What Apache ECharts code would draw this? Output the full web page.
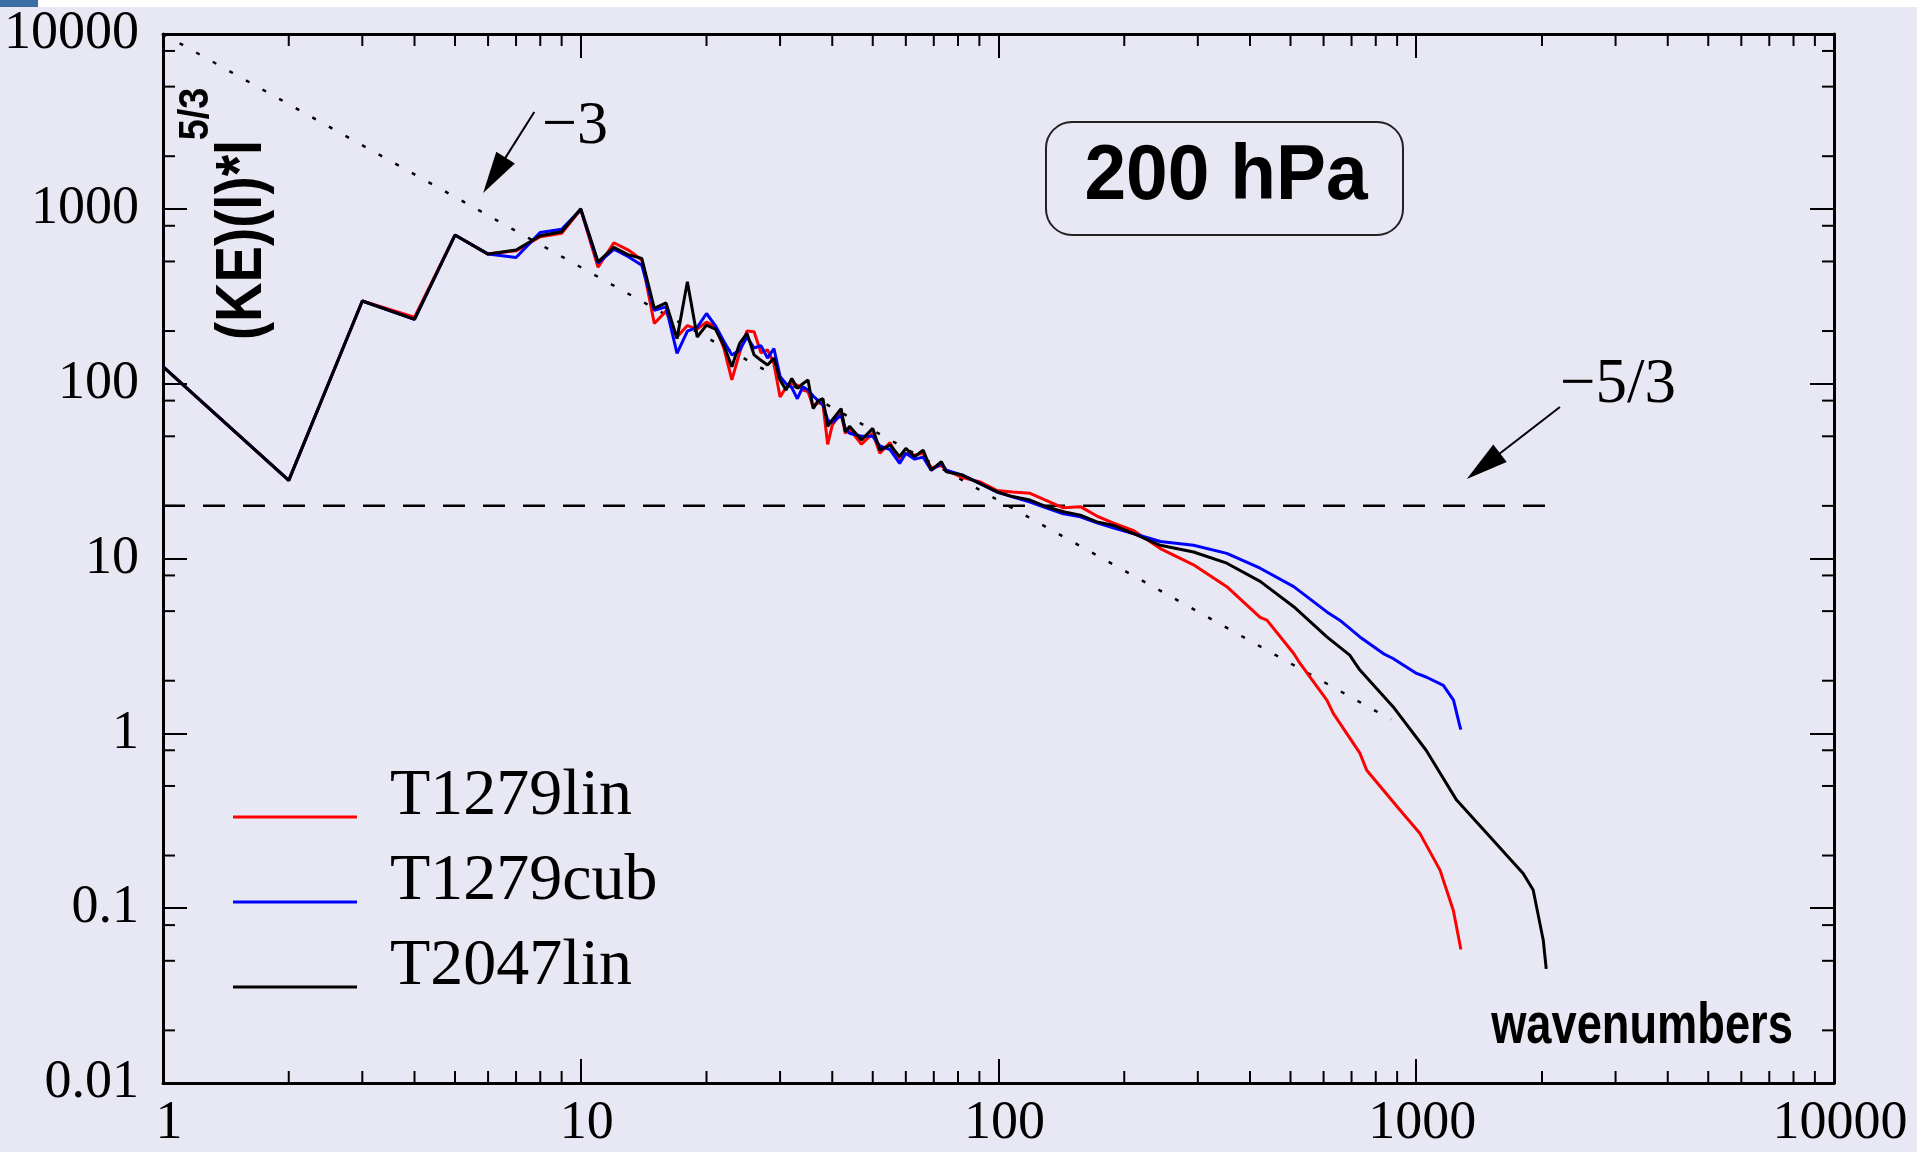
<!DOCTYPE html>
<html>
<head>
<meta charset="utf-8">
<title>KE spectrum 200 hPa</title>
<script src="https://cdn.jsdelivr.net/npm/echarts@6.0.0/dist/echarts.min.js"></script>
<style>
  html, body { margin: 0; padding: 0; background: #e8e8f4; }
  #main { width: 1917px; height: 1152px; }
</style>
</head>
<body>
<div id="main"></div>
<script>
// valeurs (spectre d'énergie cinétique * l^(5/3), 200 hPa)
const lowWn = [1, 2, 3, 4, 5, 6, 7, 8, 9, 10, 11, 12, 13, 14, 15, 16, 17, 18, 19, 20,
  21, 22, 23, 24, 25, 26, 27, 28, 29, 30, 31, 32, 33, 34, 35, 36, 37, 38, 39, 40];

const t1279linLow = [125, 28, 297, 240, 708, 551, 575, 692, 725, 990, 463, 640, 581, 510, 221, 260, 185, 215, 205, 225,
  212, 160, 105, 150, 200, 198, 150, 156, 130, 84, 95, 100, 98, 92, 90, 74, 78, 76, 45, 58];
const t1279cubLow = [125, 28, 297, 233, 708, 551, 527, 733, 764, 990, 490, 587, 532, 476, 263, 275, 149, 200, 210, 252,
  215, 175, 146, 155, 185, 160, 165, 140, 159, 110, 100, 95, 82, 96, 92, 85, 80, 76, 62, 60];
const t2047linLow = [125, 28, 297, 233, 708, 551, 581, 701, 739, 1000, 498, 602, 545, 521, 270, 290, 181, 383, 185, 216,
  205, 166, 125, 170, 194, 146, 136, 128, 140, 105, 92, 107, 94, 100, 105, 72, 80, 82, 57, 62];

const t1279linHighWn = [42, 43, 44, 47, 50, 52, 55, 58, 60, 63, 66, 69, 73, 75, 82, 90, 99, 108, 119, 130,
  143, 157, 172, 188, 210, 244, 293, 352, 423, 439, 509, 527, 611, 633, 733, 761, 914, 1021, 1140, 1227, 1279];
const t1279linHigh = [68, 52, 55, 45, 52, 40, 46, 36, 40, 39, 40, 33, 34, 32, 29, 27.5, 24.5, 24, 23.6, 21.5,
  19.5, 19.8, 17.5, 16, 14.5, 11.4, 9.2, 6.9, 4.6, 4.44, 2.86, 2.51, 1.55, 1.3, 0.77, 0.615, 0.364, 0.267, 0.165, 0.097, 0.058];

const t1279cubHighWn = [42, 43, 44, 47, 50, 52, 55, 58, 60, 63, 66, 69, 73, 75, 82, 90, 99, 108, 119, 130,
  143, 157, 172, 188, 210, 244, 293, 352, 423, 509, 611, 656, 733, 834, 880, 1002, 1056, 1161, 1228, 1273, 1279];
const t1279cubHigh = [66, 55, 52, 50, 50, 44, 42, 35, 40, 37, 38, 32, 35, 32, 30, 27, 24, 22.5, 21, 19.5,
  18, 17.3, 16, 15, 13.9, 12.5, 11.9, 10.7, 8.8, 6.9, 4.95, 4.44, 3.56, 2.86, 2.68, 2.2, 2.1, 1.88, 1.55, 1.09, 1.05];

const t2047linHighWn = [42, 43, 44, 47, 50, 52, 55, 58, 60, 63, 66, 69, 73, 75, 82, 90, 99, 108, 119, 130,
  143, 157, 172, 188, 210, 244, 293, 352, 423, 509, 611, 693, 733, 880, 1056, 1249, 1501, 1803, 1905, 2014, 2047];
const t2047linHigh = [72, 53, 57, 47.6, 55.5, 41.7, 44.6, 38.2, 42.7, 38.2, 41.7, 32, 35.8, 31.3, 30, 26.9, 24.1, 22.6, 21.6, 19.8,
  18.5, 17.7, 16.2, 15.5, 13.9, 11.9, 10.9, 9.4, 7.4, 5.3, 3.56, 2.8, 2.3, 1.42, 0.8, 0.415, 0.256, 0.158, 0.127, 0.0656, 0.045];

// droites de référence : pente -3 (pointillés) et -5/3 (tirets)
const slopeMinus3 = [[1, 10000], [870, 1.2]];
const slopeMinus53 = [[1, 20], [2047, 20]];

// flèches d'annotation [départ, pointe] en coordonnées des données
const arrowMinus3 = [[7.74, 3581], [5.84, 1231]];
const arrowMinus53 = [[2208, 73.5], [1321, 28.5]];

const seriesNames = ['T1279lin', 'T1279cub', 'T2047lin'];
const seriesColors = ['#ff0000', '#0000ff', '#000000'];

const xTickLabels = ['1', '10', '100', '1000', '10000'];
const yTickLabels = ['0.01', '0.1', '1', '10', '100', '1000', '10000'];
const xMinorMantissa = [2, 3, 4, 5, 6, 7, 8, 9];
const yMinorMantissa = [2, 5, 8];

function pairs(xs, ys) {
  return xs.map((x, i) => [x, ys[i]]);
}

const xMinorTicks = [];
[1, 10, 100, 1000].forEach(d => xMinorMantissa.forEach(m => xMinorTicks.push([m * d, 1])));
const yMinorTicks = [];
[0.01, 0.1, 1, 10, 100, 1000].forEach(d => yMinorMantissa.forEach(m => yMinorTicks.push([1, m * d])));

const chartDom = document.getElementById('main');
const chart = echarts.init(chartDom, null, { renderer: 'canvas' });

const axisCommon = {
  type: 'log',
  logBase: 10,
  axisLine: { show: true, onZero: false, lineStyle: { color: '#000', width: 3 } },
  axisTick: { show: true, inside: true, length: 24, lineStyle: { color: '#000', width: 2 } },
  splitLine: { show: false },
  minorTick: { show: false }
};

const serifLabel = { fontFamily: 'Liberation Serif', fontSize: 54, color: '#000' };

function minorTickSeries(name, data, isX) {
  return {
    name: name,
    type: 'custom',
    silent: true,
    z: 5,
    data: data,
    renderItem: function (params, api) {
      const cs = params.coordSys;
      const p = api.coord([api.value(0), api.value(1)]);
      const st = { stroke: '#000', lineWidth: 2 };
      const len = 12;
      if (isX) {
        return {
          type: 'group',
          children: [
            { type: 'line', shape: { x1: p[0], y1: cs.y + cs.height, x2: p[0], y2: cs.y + cs.height - len }, style: st },
            { type: 'line', shape: { x1: p[0], y1: cs.y, x2: p[0], y2: cs.y + len }, style: st }
          ]
        };
      }
      return {
        type: 'group',
        children: [
          { type: 'line', shape: { x1: cs.x, y1: p[1], x2: cs.x + len, y2: p[1] }, style: st },
          { type: 'line', shape: { x1: cs.x + cs.width, y1: p[1], x2: cs.x + cs.width - len, y2: p[1] }, style: st }
        ]
      };
    }
  };
}

function spectrumSeries(i, lowVals, highWn, highVals) {
  return {
    name: seriesNames[i],
    type: 'line',
    color: seriesColors[i],
    showSymbol: false,
    symbol: 'none',
    smooth: false,
    clip: true,
    z: 10 + i,
    lineStyle: { color: seriesColors[i], width: 3 },
    data: pairs(lowWn, lowVals).concat(pairs(highWn, highVals))
  };
}

const option = {
  backgroundColor: '#e8e8f4',
  animation: false,
  grid: { left: 163, right: 83, top: 34, bottom: 69, containLabel: false },
  xAxis: [
    Object.assign({}, axisCommon, {
      position: 'bottom', min: 1, max: 10000,
      axisLabel: Object.assign({}, serifLabel, {
        margin: 14,
        padding: [0, 0, 0, 12],
        formatter: v => xTickLabels[Math.round(Math.log10(v))]
      })
    }),
    Object.assign({}, axisCommon, {
      position: 'top', min: 1, max: 10000,
      axisLabel: { show: false }
    })
  ],
  yAxis: [
    Object.assign({}, axisCommon, {
      position: 'left', min: 0.01, max: 10000,
      axisLabel: Object.assign({}, serifLabel, {
        margin: 24,
        formatter: v => yTickLabels[Math.round(Math.log10(v)) + 2]
      })
    }),
    Object.assign({}, axisCommon, {
      position: 'right', min: 0.01, max: 10000,
      axisLabel: { show: false }
    })
  ],
  legend: {
    data: seriesNames,
    orient: 'vertical',
    left: 233,
    top: 764,
    padding: 0,
    itemGap: 19,
    itemWidth: 124,
    itemHeight: 43,
    // trait posé sur la ligne de base du texte
    icon: 'path://M0,0 L0,0 M0,40 L124,40 L124,43 L0,43 Z',
    selectedMode: false,
    itemStyle: { borderWidth: 0 },
    textStyle: {
      fontFamily: 'Liberation Serif', fontSize: 66, color: '#000',
      lineHeight: 46, padding: [0, 0, 0, 28]
    }
  },
  series: [
    minorTickSeries('xminor', xMinorTicks, true),
    minorTickSeries('yminor', yMinorTicks, false),
    {
      name: 'pente -3',
      type: 'line',
      showSymbol: false,
      symbol: 'none',
      silent: true,
      z: 4,
      lineStyle: { color: '#000', width: 2.5, type: [4, 15] },
      data: slopeMinus3
    },
    {
      name: 'pente -5/3',
      type: 'line',
      showSymbol: false,
      symbol: 'none',
      silent: true,
      z: 4,
      lineStyle: { color: '#000', width: 2.5, type: [22, 18] },
      data: slopeMinus53
    },
    spectrumSeries(0, t1279linLow, t1279linHighWn, t1279linHigh),
    spectrumSeries(1, t1279cubLow, t1279cubHighWn, t1279cubHigh),
    spectrumSeries(2, t2047linLow, t2047linHighWn, t2047linHigh)
  ]
};

chart.setOption(option);

// flèches et textes
function arrowGraphic(arrow) {
  const p0 = chart.convertToPixel({ gridIndex: 0 }, arrow[0]);
  const p1 = chart.convertToPixel({ gridIndex: 0 }, arrow[1]);
  const dx = p1[0] - p0[0], dy = p1[1] - p0[1];
  const len = Math.sqrt(dx * dx + dy * dy);
  const ux = dx / len, uy = dy / len;
  const headLen = 42, headW = 11;
  const bx = p1[0] - ux * headLen, by = p1[1] - uy * headLen;
  return [
    {
      type: 'line',
      shape: { x1: p0[0], y1: p0[1], x2: bx + ux * 4, y2: by + uy * 4 },
      style: { stroke: '#000', lineWidth: 2 }
    },
    {
      type: 'polygon',
      shape: { points: [[p1[0], p1[1]], [bx - uy * headW, by + ux * headW], [bx + uy * headW, by - ux * headW]] },
      style: { fill: '#000' }
    }
  ];
}

const sansBold = '"Liberation Sans", Arial, sans-serif';
const serif = '"Liberation Serif", "Times New Roman", serif';

chart.setOption({
  graphic: [
    { type: 'rect', shape: { x: 0, y: 0, width: 1917, height: 7 }, style: { fill: '#ffffff' }, silent: true },
    { type: 'rect', shape: { x: 0, y: 0, width: 38, height: 7 }, style: { fill: '#3a6ea5' }, silent: true },
    {
      type: 'text', x: 243, y: 240, rotation: Math.PI / 2, scaleX: 0.84,
      style: { text: '(KE)(l)*l', font: 'bold 65px ' + sansBold, fill: '#000', align: 'center', verticalAlign: 'middle' }
    },
    {
      type: 'text', x: 196, y: 114, rotation: Math.PI / 2, scaleX: 0.88,
      style: { text: '5/3', font: 'bold 43px ' + sansBold, fill: '#000', align: 'center', verticalAlign: 'middle' }
    },
    {
      type: 'rect', shape: { x: 1046, y: 122, width: 357, height: 113, r: 26 },
      style: { fill: 'none', stroke: '#222', lineWidth: 2 }
    },
    {
      type: 'text', x: 1226, y: 177, scaleX: 0.96,
      style: { text: '200 hPa', font: 'bold 78px ' + sansBold, fill: '#000', align: 'center', verticalAlign: 'middle' }
    },
    {
      type: 'text', x: 1642, y: 1027, scaleX: 0.78,
      style: { text: 'wavenumbers', font: 'bold 58px ' + sansBold, fill: '#000', align: 'center', verticalAlign: 'middle' }
    },
    {
      type: 'text', x: 575, y: 127,
      style: { text: '\u22123', font: '62px ' + serif, fill: '#000', align: 'center', verticalAlign: 'middle' }
    },
    {
      type: 'text', x: 1618, y: 385,
      style: { text: '\u22125/3', font: '63px ' + serif, fill: '#000', align: 'center', verticalAlign: 'middle' }
    }
  ].concat(arrowGraphic(arrowMinus3), arrowGraphic(arrowMinus53))
});

window.addEventListener('resize', () => {
  chart.resize();
});
</script>
</body>
</html>
